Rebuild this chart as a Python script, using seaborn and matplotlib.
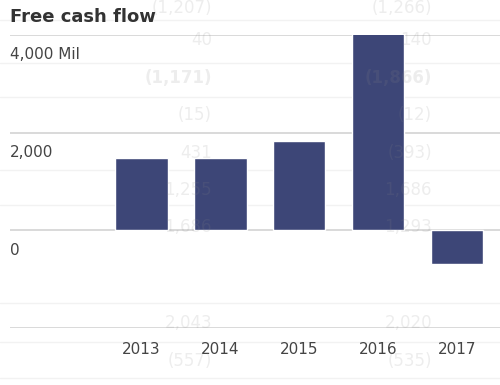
import matplotlib
matplotlib.use("Agg")
import pandas as pd
import matplotlib.pyplot as plt
import seaborn as sns

# Chart data
years = ["2013", "2014", "2015", "2016", "2017"]
free_cash_flow = [1490, 1490, 1820, 4050, -680]
y_ticks = [4000, 2000, 0]
y_tick_labels = ["4,000 Mil", "2,000", "0"]
grid_values = [4000, 2000, 0, -2000]

# faint table text showing through from behind the chart
ghost_left = ["(1,207)", "40", "(1,171)", "(15)", "431", "1,255", "1,686", "2,043", "(557)"]
ghost_right = ["(1,266)", "140", "(1,866)", "(12)", "(393)", "1,686", "1,293", "2,020", "(535)"]
ghost_rows_px = [8, 40, 78, 115, 153, 190, 227, 323, 361]
ghost_bold = [False, False, True, False, False, False, False, False, False]

df = pd.DataFrame({"year": years, "fcf": free_cash_flow})

sns.set_theme(style="white")
plt.rcParams["font.family"] = ["DejaVu Sans"]

W, H = 500, 385
fig = plt.figure(figsize=(5, 3.85), dpi=100)
ax = fig.add_axes([10 / W, 1 - 328 / H, 490 / W, (328 - 35) / H])

# faint background table row lines
for yp in [20, 63, 97, 170, 205, 303, 342, 378]:
    fig.add_artist(plt.Line2D([0, 1], [1 - yp / H] * 2, color="#f2f2f2", lw=1, zorder=0))

for g in grid_values:
    ax.axhline(g, color="#cfcfcf", lw=1.1, zorder=1)

sns.barplot(data=df, x="year", y="fcf", color="#3d4677", saturation=1,
            width=0.66, ax=ax, zorder=2)

ax.set_xlim(-1.665, 4.54)
ax.set_ylim(-2000, 4000)
ax.set_xlabel("")
ax.set_ylabel("")
ax.set_yticks([])
ax.tick_params(axis="x", length=0, pad=10, labelsize=11, colors="#444444")
for s in ax.spines.values():
    s.set_visible(False)
ax.patch.set_alpha(0)

for v, lab in zip(y_ticks, y_tick_labels):
    ax.annotate(lab, xy=(0, v), xycoords=("axes fraction", "data"),
                xytext=(0, -20), textcoords="offset pixels",
                ha="left", va="center", fontsize=11, color="#444444")

fig.text(10 / W, 1 - 17 / H, "Free cash flow", ha="left", va="center",
         fontsize=13, fontweight="bold", color="#333333")

for txt_l, txt_r, yp, b in zip(ghost_left, ghost_right, ghost_rows_px, ghost_bold):
    for txt, xr in [(txt_l, 212), (txt_r, 432)]:
        fig.text(xr / W, 1 - yp / H, txt, ha="right", va="center", fontsize=12,
                 fontweight="bold" if b else "normal", color="#888888",
                 alpha=0.15, zorder=10)

fig.savefig("out.png", dpi=100)
